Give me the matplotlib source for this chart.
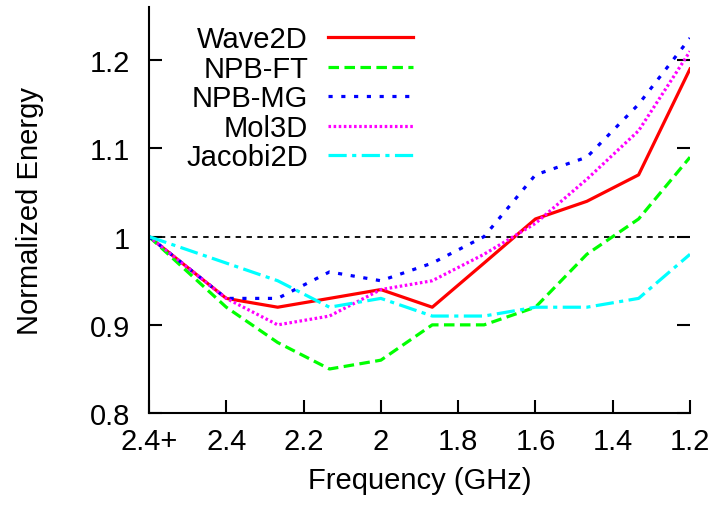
import matplotlib.pyplot as plt
import numpy as np

plt.rcParams['font.family'] = ['Liberation Sans', 'DejaVu Sans']

# frequency steps, 2.4+ (turbo) is drawn at 2.6
freq = [2.6, 2.4, 2.267, 2.133, 2.0, 1.867, 1.733, 1.6, 1.467, 1.333, 1.2]
tick_pos = [2.6, 2.4, 2.2, 2.0, 1.8, 1.6, 1.4, 1.2]
tick_lbl = ['2.4+', '2.4', '2.2', '2', '1.8', '1.6', '1.4', '1.2']

wave2d   = [1.00, 0.93, 0.92, 0.93, 0.94, 0.92, 0.97, 1.02, 1.04, 1.07, 1.19]
npb_ft   = [1.00, 0.92, 0.88, 0.85, 0.86, 0.90, 0.90, 0.92, 0.98, 1.02, 1.09]
npb_mg   = [1.00, 0.93, 0.93, 0.96, 0.95, 0.97, 1.00, 1.07, 1.09, 1.15, 1.225]
mol3d    = [1.00, 0.93, 0.90, 0.91, 0.94, 0.95, 0.98, 1.015, 1.065, 1.12, 1.21]
jacobi2d = [1.00, 0.97, 0.95, 0.92, 0.93, 0.91, 0.91, 0.92, 0.92, 0.93, 0.98]

fs = 21
fig = plt.figure(figsize=(7.14, 5.10), dpi=100)
ax = fig.add_axes([0.2087, 0.188, 0.7577, 0.796])

lw = 2.3
ax.plot(freq, wave2d, color='#ff0000', lw=lw, label='Wave2D')
ax.plot(freq, npb_ft, color='#00ff00', lw=lw, dashes=(3.3, 1.7), label='NPB-FT')
ax.plot(freq, npb_mg, color='#0000ff', lw=lw, dashes=(1.3, 2.7), label='NPB-MG')
ax.plot(freq, mol3d, color='#ff00ff', lw=lw, dashes=(0.8, 0.8), label='Mol3D')
ax.plot(freq, jacobi2d, color='#00ffff', lw=lw, dashes=(5.7, 1.7, 1.3, 1.7), label='Jacobi2D')
ax.axhline(1.0, color='black', lw=1.3, dashes=(3, 3), zorder=0)

ax.set_xlim(2.6, 1.2)
ax.set_ylim(0.8, 1.26)
ax.set_xticks(tick_pos)
ax.set_xticklabels(tick_lbl)
ax.set_yticks([0.8, 0.9, 1.0, 1.1, 1.2])
ax.set_yticklabels(['0.8', '0.9', '1', '1.1', '1.2'])

for s in ['top', 'right']:
    ax.spines[s].set_visible(False)
for s in ['left', 'bottom']:
    ax.spines[s].set_linewidth(1.5)
ax.tick_params(direction='in', length=9.4, width=1.5, labelsize=fs, right=True)
ax.tick_params(axis='y', pad=13.7)
ax.tick_params(axis='x', pad=10)

ax.set_xlabel('Frequency (GHz)', fontsize=fs)
ax.set_ylabel('Normalized Energy', fontsize=fs)
ax.xaxis.set_label_coords(0.5, -0.130)
ax.yaxis.set_label_coords(-0.194, 0.5)

ax.legend(loc='upper right', bbox_to_anchor=(0.488, 0.955), frameon=False, fontsize=fs,
          markerfirst=False, handlelength=2.9, handletextpad=0.7, labelspacing=0.05,
          borderpad=0, borderaxespad=0)

plt.savefig('out.png', dpi=100)
